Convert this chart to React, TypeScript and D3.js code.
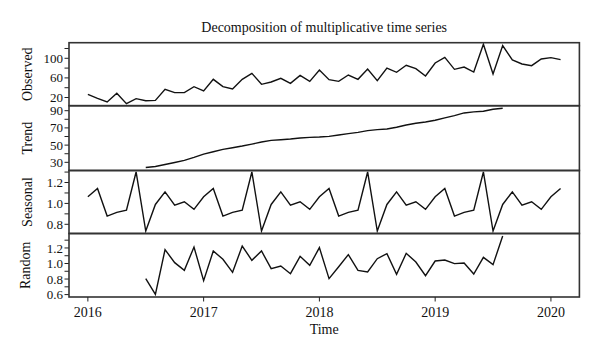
import React from "react";
import * as d3 from "d3";

const years = [2016, 2017, 2018, 2019, 2020];
const startYear = 2016;

const observed = [
  26.5, 18.3, 10.8, 28.5, 7.4, 17.6, 13.5, 14.2, 36.7, 29.9,
  29.9, 42.1, 33.3, 57.1, 42.1, 37.3, 57.1, 69.3, 46.9, 51.6,
  59.1, 48.9, 65.2, 53.0, 76.1, 56.4, 53.0, 65.9, 57.1, 78.2,
  54.3, 80.2, 71.4, 85.7, 78.8, 63.9, 90.4, 102.0, 77.5, 82.2,
  72.0, 128.5, 68.0, 125.8, 96.5, 88.4, 85.0, 98.6, 101.3, 97.2,
];

// trend & random start at index 6 (July 2016)
const trendStart = 6;
const trend = [
  24.0, 25.2, 27.5, 29.8, 32.2, 35.7, 39.6, 42.3, 45.0, 47.0,
  48.9, 51.2, 53.6, 55.5, 56.3, 57.1, 58.2, 59.0, 59.4, 60.2,
  61.7, 63.3, 64.8, 66.8, 68.0, 68.7, 70.7, 73.4, 75.4, 76.9,
  78.9, 81.6, 84.3, 87.4, 88.6, 89.4, 91.7, 92.9,
];

const seasonal = [
  1.063, 1.143, 0.879, 0.914, 0.936, 1.301, 0.736, 0.99, 1.111, 0.984, 1.016, 0.943,
  1.063, 1.143, 0.879, 0.914, 0.936, 1.301, 0.736, 0.99, 1.111, 0.984, 1.016, 0.943,
  1.063, 1.143, 0.879, 0.914, 0.936, 1.301, 0.736, 0.99, 1.111, 0.984, 1.016, 0.943,
  1.063, 1.143, 0.879, 0.914, 0.936, 1.301, 0.736, 0.99, 1.111, 0.984, 1.016, 0.943,
  1.063, 1.143,
];

const random = [
  0.805, 0.603, 1.178, 1.011, 0.912, 1.212, 0.779, 1.161, 1.054, 0.886,
  1.225, 1.041, 1.161, 0.933, 0.968, 0.869, 1.092, 0.976, 1.204, 0.805,
  0.959, 1.114, 0.912, 0.891, 1.062, 1.127, 0.861, 1.131, 1.019, 0.843,
  1.032, 1.045, 0.998, 1.006, 0.865, 1.079, 0.985, 1.354,
];

const panelNames = ["Observed", "Trend", "Seasonal", "Random"];
const obsTicks = [20, 40, 60, 80, 100, 120];
const obsLabels = [20, 60, 100];
const trendTicks = [30, 40, 50, 60, 70, 80, 90];
const trendLabels = [30, 50, 70, 90];
const seasTicks = [0.8, 0.9, 1.0, 1.1, 1.2, 1.3];
const seasLabels = [0.8, 1.0, 1.2];
const randTicks = [0.6, 0.7, 0.8, 0.9, 1.0, 1.1, 1.2, 1.3];
const randLabels = [0.6, 0.8, 1.0, 1.2];

const FONT = "'Liberation Serif', 'DejaVu Serif', serif";

export default function App() {
  const W = 600;
  const H = 357;
  const left = 69;
  const right = 579.4;
  const x = d3.scaleLinear().domain([2015.837, 2020.246]).range([left, right]);

  const bands = [
    [42.7, 105.7],
    [105.7, 170.5],
    [170.5, 233.5],
    [233.5, 297],
  ];
  const domains = [
    [3.3, 131.8],
    [20.5, 95.8],
    [0.712, 1.315],
    [0.569, 1.386],
  ];
  const seriesList = [
    observed.map((v, i) => [startYear + i / 12, v]),
    trend.map((v, i) => [startYear + (i + trendStart) / 12, v]),
    seasonal.map((v, i) => [startYear + i / 12, v]),
    random.map((v, i) => [startYear + (i + trendStart) / 12, v]),
  ];
  const ticksList = [obsTicks, trendTicks, seasTicks, randTicks];
  const labelsList = [obsLabels, trendLabels, seasLabels, randLabels];
  const fmt = [(v: number) => String(v), (v: number) => String(v), (v: number) => v.toFixed(1), (v: number) => v.toFixed(1)];

  return (
    <svg width={W} height={H} style={{ display: "block", position: "absolute", left: 0, top: 0, background: "#fff" }} fontFamily={FONT}>
      <text x={(left + right) / 2} y={32} textAnchor="middle" fontSize={14} fill="#111">
        Decomposition of multiplicative time series
      </text>
      {bands.map((b, p) => {
        const y = d3.scaleLinear().domain(domains[p]).range([b[1], b[0]]);
        const line = d3
          .line<number[]>()
          .x((d) => x(d[0]))
          .y((d) => y(d[1]));
        const mid = (b[0] + b[1]) / 2;
        return (
          <g key={p}>
            <path d={line(seriesList[p] as any) || ""} fill="none" stroke="#111" strokeWidth={1.4} strokeLinejoin="miter" />
            {ticksList[p].map((t) => (
              <line key={t} x1={left - 4.5} x2={left} y1={y(t)} y2={y(t)} stroke="#222" strokeWidth={1} />
            ))}
            {labelsList[p].map((t) => (
              <text key={t} x={left - 6} y={y(t)} dy="0.35em" textAnchor="end" fontSize={13} fill="#111">
                {fmt[p](t)}
              </text>
            ))}
            <text
              transform={`translate(${p === 3 ? 30 : 31.5},${mid}) rotate(-90)`}
              textAnchor="middle"
              fontSize={14}
              fill="#111"
            >
              {panelNames[p]}
            </text>
          </g>
        );
      })}
      {bands.map((b, p) => (
        <rect key={"r" + p} x={left} y={b[0]} width={right - left} height={b[1] - b[0]} fill="none" stroke="#333" strokeWidth={1.6} />
      ))}
      {years.map((yr) => (
        <g key={yr}>
          <line x1={x(yr)} x2={x(yr)} y1={297} y2={301.5} stroke="#222" strokeWidth={1} />
          <text x={x(yr)} y={317} textAnchor="middle" fontSize={14} fill="#111">
            {yr}
          </text>
        </g>
      ))}
      <text x={(left + right) / 2} y={334} textAnchor="middle" fontSize={14} fill="#111">
        Time
      </text>
    </svg>
  );
}
